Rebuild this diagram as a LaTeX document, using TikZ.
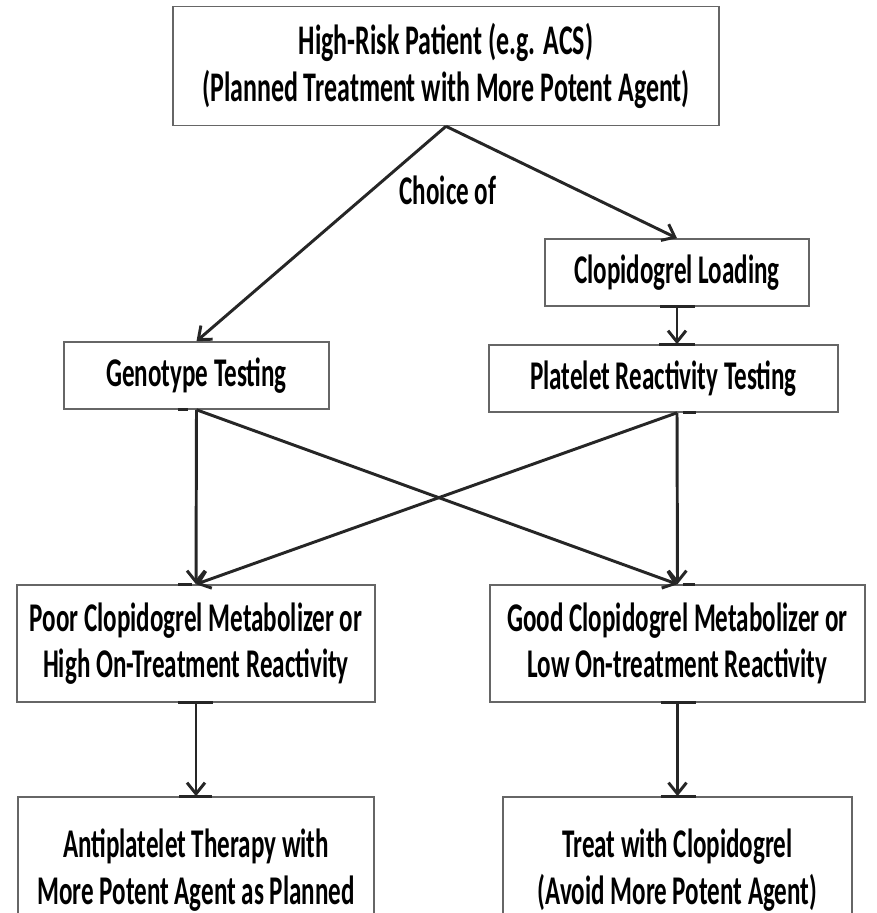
\documentclass[tikz,border=0pt]{standalone}
\usepackage{fontspec}
\setmainfont{Carlito}[FakeStretch=0.615]
\usepackage{tikz}
\usetikzlibrary{positioning, arrows.meta}

\begin{document}
\begin{tikzpicture}[
    x=0.025cm, y=-0.025cm,
    >={Straight Barb[length=2.8mm, width=4.5mm]},
    flow/.style={->, line width=2.1pt, draw=black!85},
    box/.style={draw=black!60, line width=1.1pt, fill=white, rectangle,
        align=center, inner sep=0pt, font=\fontsize{29}{33}\selectfont\bfseries},
    tickmark/.style={line width=2.2pt, draw=black!85}
]
\useasboundingbox (0,0) rectangle (876,913);

% Top box
\node[box, minimum width=13.65cm, minimum height=2.975cm,
      font=\fontsize{30}{34}\selectfont\bfseries] (risk) at (446,66)
    {High-Risk Patient (e.g. ACS)\\(Planned Treatment with More Potent Agent)};

% Testing routes
\node[box, minimum width=6.6cm, minimum height=1.675cm] (load) at (677,272.5) {Clopidogrel Loading};
\node[box, minimum width=6.625cm, minimum height=1.675cm] (geno) at (196.5,375.5) {Genotype Testing};
\node[box, minimum width=8.725cm, minimum height=1.675cm] (plat) at (663.5,378.5) {Platelet Reactivity Testing};

% Results
\node[box, minimum width=8.95cm, minimum height=2.925cm] (poor) at (196,643.5)
    {Poor Clopidogrel Metabolizer or\\High On-Treatment Reactivity};
\node[box, minimum width=9.375cm, minimum height=2.925cm] (good) at (677.5,643.5)
    {Good Clopidogrel Metabolizer or\\Low On-treatment Reactivity};

% Therapy (runs off the bottom edge)
\node[box, minimum width=8.9cm, minimum height=3.65cm] (anti) at (196,870)
    {Antiplatelet Therapy with\\More Potent Agent as Planned};
\node[box, minimum width=8.725cm, minimum height=3.65cm] (treat) at (677.5,870)
    {Treat with Clopidogrel\\(Avoid More Potent Agent)};

\node[font=\fontsize{29}{33}\selectfont\bfseries] (choice) at (448,190) {Choice of};

% Connection marks on the box edges
\draw[tickmark] (load.south) ++(-17,0) -- ++(35,0);
\draw[tickmark] (load.south |- plat.north) ++(-18,0) -- ++(36,0);
\draw[tickmark] (geno.south) ++(-19,0) -- ++(10,0);
\draw[tickmark] (load.south |- plat.south) ++(6,0) -- ++(13,0);
\draw[tickmark] (poor.north) ++(-18,0) -- ++(14,0);
\draw[tickmark] (good.north) ++(5,0) -- ++(12,0);
\draw[tickmark] (poor.south) ++(-18,0) -- ++(35,0);
\draw[tickmark] (good.south) ++(-17,0) -- ++(35,0);
\draw[tickmark] (anti.north) ++(-17,0) -- ++(33,0);
\draw[tickmark] (treat.north) ++(-17,0) -- ++(35,0);

% Connectors
\draw[flow] (risk.south) -- (geno.north);
\draw[flow] (risk.south) -- (load.north);
\draw[flow] (load.south) -- (load.south |- plat.north);
\draw[flow] (geno.south) -- (poor.north);
\draw[flow] (geno.south) -- (good.north);
\draw[flow] (load.south |- plat.south) -- (poor.north);
\draw[flow] (load.south |- plat.south) -- (good.north);
\draw[flow] (poor.south) -- (anti.north);
\draw[flow] (good.south) -- (treat.north);

\end{tikzpicture}
\end{document}
